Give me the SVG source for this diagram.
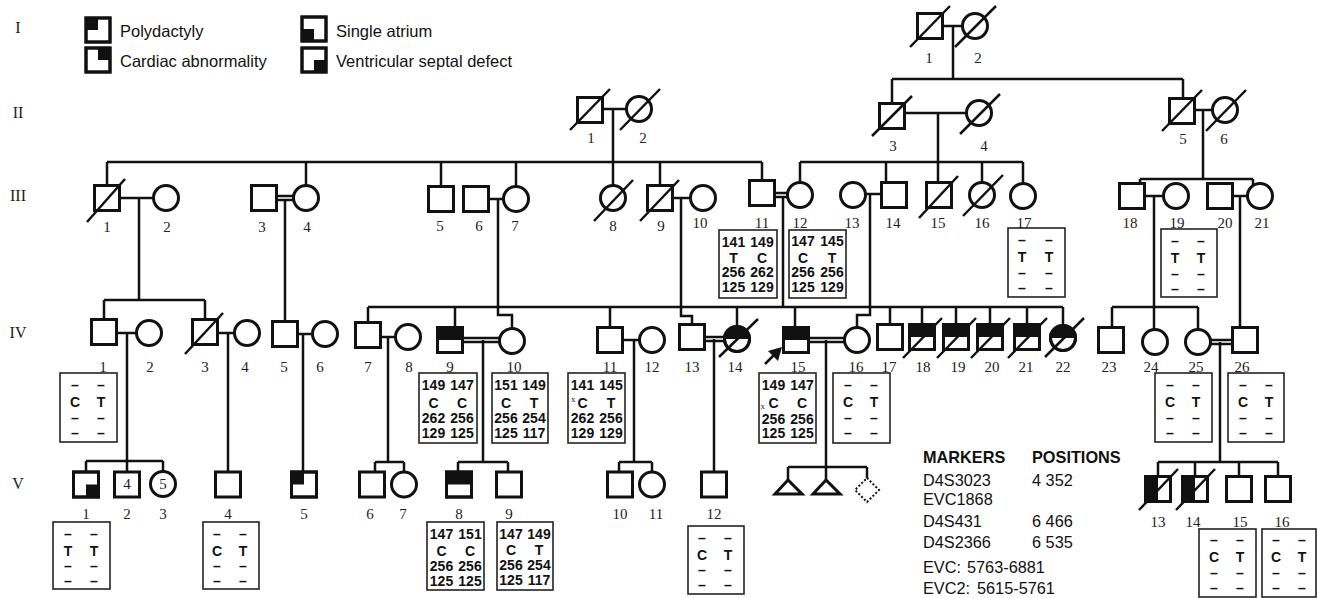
<svg xmlns="http://www.w3.org/2000/svg" width="1317" height="598" viewBox="0 0 1317 598">
<style>
.s{fill:#fff;stroke:#111;stroke-width:3}
.f{fill:#111}
.d{stroke:#111;stroke-width:2.5}
.ln{stroke:#111;stroke-width:2.5;fill:none}
.bx{fill:#fff;stroke:#222;stroke-width:1.6}
.lb{font-family:"Liberation Serif","Times New Roman",serif;font-size:15px;text-anchor:middle;fill:#222}
.gl{font-family:"Liberation Serif","Times New Roman",serif;font-size:16px;text-anchor:middle;fill:#222}
.g{font-family:"Liberation Sans",Arial,sans-serif;font-weight:bold;font-size:14px;text-anchor:middle;fill:#111}
.lg{font-family:"Liberation Sans",Arial,sans-serif;font-size:16.5px;fill:#111}
.mk{font-family:"Liberation Sans",Arial,sans-serif;font-size:16.3px;fill:#111}
.mb{font-family:"Liberation Sans",Arial,sans-serif;font-size:16.3px;font-weight:bold;fill:#111}
.x{font-family:"Liberation Serif",serif;font-size:9px;fill:#222}
</style>
<rect width="1317" height="598" fill="#fff"/>

<!-- generation labels -->
<g id="gen-labels">
<text class="gl" x="18" y="33">I</text>
<text class="gl" x="18" y="118">II</text>
<text class="gl" x="18" y="201">III</text>
<text class="gl" x="18" y="338">IV</text>
<text class="gl" x="18" y="489">V</text>
</g>

<!-- legend -->
<g id="legend">
<rect class="s" x="86" y="18" width="24" height="24"/><rect class="f" x="86" y="18" width="12" height="12"/><rect x="86" y="18" width="24" height="24" fill="none" stroke="#111" stroke-width="3"/>
<text class="lg" x="120" y="37">Polydactyly</text>
<rect class="s" x="86" y="48" width="24" height="24"/><rect class="f" x="98" y="48" width="12" height="12"/><rect x="86" y="48" width="24" height="24" fill="none" stroke="#111" stroke-width="3"/>
<text class="lg" x="120" y="67">Cardiac abnormality</text>
<rect class="s" x="302" y="17" width="24" height="24"/><rect class="f" x="302" y="29" width="12" height="12"/><rect x="302" y="17" width="24" height="24" fill="none" stroke="#111" stroke-width="3"/>
<text class="lg" x="336" y="37">Single atrium</text>
<rect class="s" x="302" y="48" width="24" height="24"/><rect class="f" x="314" y="60" width="12" height="12"/><rect x="302" y="48" width="24" height="24" fill="none" stroke="#111" stroke-width="3"/>
<text class="lg" x="336" y="67">Ventricular septal defect</text>
</g>

<!-- connectors -->
<g id="connectors" class="ln">
<path d="M943 26H962M953 26V79M892 79H1183M892 79V103.5M1183 79V98.5"/>
<path d="M603 109H626M613 109V185.5M904 113H966M938 113V182.5M1194 110H1212M1203 110V179"/>
<path d="M107 162H762M107 162V185.5M306 162V185.5M441 162V186.5M516 162V186.5M660 162V185.5M762 162V180.5"/>
<path d="M800 162H1023M800 162V182.5M886 162V182.5M982 162V182.5M1023 162V183.5"/>
<path d="M1140 179H1253M1140 179V183.5M1253 179V186"/>
<path d="M120 198H153M139 198V300M104 300H205M104 300V319.5M205 300V319.5"/>
<path d="M276 196H293.5M276 200H293.5M285 200V321.5"/>
<path d="M488 199H503M498 199V315H512V328.5"/>
<path d="M672 198H690M681 198V316H692V324.5"/>
<path d="M774 193H787.5M774 197H787.5M783 197V307"/>
<path d="M865 194H881.5M870 194V315H857V327.5"/>
<path d="M1144 196H1163.5M1154 196V329.5M1112 307H1198M1112 307V327.5M1198 307V329.5"/>
<path d="M1232 196H1247.5M1240 196V327.5"/>
<path d="M368 307H1063M368 307V322.5M455 307V327.5M610 307V327.5M737 307V326.5M795 307V327.5M890 307V324.5M922 307V324.5M956 307V324.5M990 307V324.5M1027 307V324.5M1063 307V325.5"/>
<path d="M116.5 333H136.5M127 333V461M86 461H163M86 461V472M127 461V472M163 461V471.5"/>
<path d="M217.5 333H234.5M228 333V472M297.5 334H312.5M303 334V472"/>
<path d="M380.5 337H395.5M388 337V462M375 462H404M375 462V472M404 462V471.5"/>
<path d="M462 338H499.5M462 342H499.5M483 340V462M458 462H508M458 462V472M508 462V472"/>
<path d="M622.5 340H639.5M634 340V462M619 462H652M619 462V472M652 462V471.5"/>
<path d="M704.5 337H724.5M704.5 341H724.5M714 339V472"/>
<path d="M808.5 338H844.5M808.5 342H844.5M826 340V480M788 467H867M788 467V480M867 467V478"/>
<path d="M1210.5 340H1232.5M1210.5 344H1232.5M1220 342V462M1158 462H1278M1158 462V476.5M1195 462V476.5M1239 462V476.5M1278 462V476.5"/>
</g>

<!-- Generation I -->
<g id="I-1"><rect class="s" x="917.5" y="13.5" width="25" height="25"/><line class="d" x1="910" y1="47" x2="950" y2="6"/><text class="lb" x="929" y="63">1</text></g>
<g id="I-2"><circle class="s" cx="975" cy="26" r="12.5"/><line class="d" x1="955" y1="47" x2="996" y2="6"/><text class="lb" x="978" y="63">2</text></g>

<!-- Generation II -->
<g id="II-1"><rect class="s" x="577.5" y="97.5" width="25" height="25"/><line class="d" x1="570" y1="130" x2="610" y2="89"/><text class="lb" x="591" y="143">1</text></g>
<g id="II-2"><circle class="s" cx="639" cy="109" r="12.5"/><line class="d" x1="620" y1="130" x2="660" y2="89"/><text class="lb" x="643" y="143">2</text></g>
<g id="II-3"><rect class="s" x="879.5" y="103.5" width="25" height="25"/><line class="d" x1="872" y1="136" x2="912" y2="96"/><text class="lb" x="893" y="151">3</text></g>
<g id="II-4"><circle class="s" cx="979" cy="113" r="12.5"/><line class="d" x1="960" y1="134" x2="1000" y2="94"/><text class="lb" x="984" y="151">4</text></g>
<g id="II-5"><rect class="s" x="1169.5" y="98.5" width="25" height="25"/><line class="d" x1="1162" y1="131" x2="1202" y2="90"/><text class="lb" x="1183" y="144">5</text></g>
<g id="II-6"><circle class="s" cx="1225" cy="110" r="12.5"/><line class="d" x1="1206" y1="131" x2="1246" y2="90"/><text class="lb" x="1224" y="144">6</text></g>

<!-- Generation III -->
<g id="III-1"><rect class="s" x="94.5" y="185.5" width="25" height="25"/><line class="d" x1="87" y1="222" x2="125" y2="179"/><text class="lb" x="107" y="232">1</text></g>
<g id="III-2"><circle class="s" cx="166" cy="198" r="12.5"/><text class="lb" x="167" y="232">2</text></g>
<g id="III-3"><rect class="s" x="251.5" y="185.5" width="25" height="25"/><text class="lb" x="262" y="232">3</text></g>
<g id="III-4"><circle class="s" cx="306" cy="198" r="12.5"/><text class="lb" x="307" y="232">4</text></g>
<g id="III-5"><rect class="s" x="428.5" y="186.5" width="25" height="25"/><text class="lb" x="440" y="231">5</text></g>
<g id="III-6"><rect class="s" x="463.5" y="186.5" width="25" height="25"/><text class="lb" x="479" y="231">6</text></g>
<g id="III-7"><circle class="s" cx="516" cy="199" r="12.5"/><text class="lb" x="515" y="231">7</text></g>
<g id="III-8"><circle class="s" cx="613" cy="198" r="12.5"/><line class="d" x1="594" y1="221" x2="633" y2="180"/><text class="lb" x="613" y="231">8</text></g>
<g id="III-9"><rect class="s" x="647.5" y="185.5" width="25" height="25"/><line class="d" x1="640" y1="221" x2="679" y2="180"/><text class="lb" x="661" y="231">9</text></g>
<g id="III-10"><circle class="s" cx="703" cy="198" r="12.5"/><text class="lb" x="700" y="228">10</text></g>
<g id="III-11"><rect class="s" x="749.5" y="180.5" width="25" height="25"/><text class="lb" x="762" y="228">11</text>
<rect class="bx" x="719" y="230" width="58" height="68"/>
<text class="g" y="247"><tspan x="733.5">141</tspan><tspan x="762">149</tspan></text>
<text class="g" y="263"><tspan x="733.5">T</tspan><tspan x="762">C</tspan></text>
<text class="g" y="277"><tspan x="733.5">256</tspan><tspan x="762">262</tspan></text>
<text class="g" y="292"><tspan x="733.5">125</tspan><tspan x="762">129</tspan></text>
</g>
<g id="III-12"><circle class="s" cx="800" cy="195" r="12.5"/><text class="lb" x="800" y="228">12</text>
<rect class="bx" x="789" y="230" width="57" height="68"/>
<text class="g" y="246"><tspan x="803">147</tspan><tspan x="832">145</tspan></text>
<text class="g" y="263"><tspan x="803">C</tspan><tspan x="832">T</tspan></text>
<text class="g" y="277"><tspan x="803">256</tspan><tspan x="832">256</tspan></text>
<text class="g" y="292"><tspan x="803">125</tspan><tspan x="832">129</tspan></text>
</g>
<g id="III-13"><circle class="s" cx="853" cy="195" r="12.5"/><text class="lb" x="852" y="228">13</text></g>
<g id="III-14"><rect class="s" x="881.5" y="182.5" width="25" height="25"/><text class="lb" x="893" y="228">14</text></g>
<g id="III-15"><rect class="s" x="926.5" y="182.5" width="25" height="25"/><line class="d" x1="919" y1="218" x2="958" y2="176"/><text class="lb" x="938" y="228">15</text></g>
<g id="III-16"><circle class="s" cx="982" cy="195" r="12.5"/><line class="d" x1="963" y1="216" x2="1003" y2="175"/><text class="lb" x="982" y="228">16</text></g>
<g id="III-17"><circle class="s" cx="1023" cy="196" r="12.5"/><text class="lb" x="1024" y="228">17</text>
<rect class="bx" x="1008" y="228" width="57" height="69"/>
<text class="g" y="245"><tspan x="1022">–</tspan><tspan x="1049">–</tspan></text>
<text class="g" y="262"><tspan x="1022">T</tspan><tspan x="1049">T</tspan></text>
<text class="g" y="278"><tspan x="1022">–</tspan><tspan x="1049">–</tspan></text>
<text class="g" y="293"><tspan x="1022">–</tspan><tspan x="1049">–</tspan></text>
</g>
<g id="III-18"><rect class="s" x="1119.5" y="183.5" width="25" height="25"/><text class="lb" x="1130" y="228">18</text></g>
<g id="III-19"><circle class="s" cx="1176" cy="196" r="12.5"/><text class="lb" x="1177" y="228">19</text>
<rect class="bx" x="1161" y="229" width="56" height="68"/>
<text class="g" y="246"><tspan x="1175">–</tspan><tspan x="1201">–</tspan></text>
<text class="g" y="263"><tspan x="1175">T</tspan><tspan x="1201">T</tspan></text>
<text class="g" y="279"><tspan x="1175">–</tspan><tspan x="1201">–</tspan></text>
<text class="g" y="294"><tspan x="1175">–</tspan><tspan x="1201">–</tspan></text>
</g>
<g id="III-20"><rect class="s" x="1207.5" y="183.5" width="25" height="25"/><text class="lb" x="1225" y="228">20</text></g>
<g id="III-21"><circle class="s" cx="1260" cy="196" r="12.5"/><text class="lb" x="1262" y="228">21</text></g>

<!-- Generation IV -->
<g id="IV-1"><rect class="s" x="91.5" y="319.5" width="25" height="25"/><text class="lb" x="103" y="372">1</text>
<rect class="bx" x="60" y="373" width="57" height="69"/>
<text class="g" y="390"><tspan x="75">–</tspan><tspan x="101">–</tspan></text>
<text class="g" y="407"><tspan x="75">C</tspan><tspan x="101">T</tspan></text>
<text class="g" y="423"><tspan x="75">–</tspan><tspan x="101">–</tspan></text>
<text class="g" y="438"><tspan x="75">–</tspan><tspan x="101">–</tspan></text>
</g>
<g id="IV-2"><circle class="s" cx="149" cy="333" r="12.5"/><text class="lb" x="150" y="372">2</text></g>
<g id="IV-3"><rect class="s" x="192.5" y="319.5" width="25" height="25"/><line class="d" x1="185" y1="354" x2="223" y2="313"/><text class="lb" x="205" y="372">3</text></g>
<g id="IV-4"><circle class="s" cx="247" cy="333" r="12.5"/><text class="lb" x="245" y="372">4</text></g>
<g id="IV-5"><rect class="s" x="272.5" y="321.5" width="25" height="25"/><text class="lb" x="284" y="372">5</text></g>
<g id="IV-6"><circle class="s" cx="325" cy="334" r="12.5"/><text class="lb" x="320" y="372">6</text></g>
<g id="IV-7"><rect class="s" x="355.5" y="322.5" width="25" height="25"/><text class="lb" x="368" y="372">7</text></g>
<g id="IV-8"><circle class="s" cx="408" cy="337" r="12.5"/><text class="lb" x="409" y="372">8</text></g>
<g id="IV-9"><rect class="s" x="437.5" y="327.5" width="25" height="25"/><rect class="f" x="437.5" y="327.5" width="25" height="12.5"/><rect x="437.5" y="327.5" width="25" height="25" fill="none" stroke="#111" stroke-width="3"/><text class="lb" x="450" y="372">9</text>
<rect class="bx" x="419" y="373" width="58" height="70"/>
<text class="g" y="390"><tspan x="433.5">149</tspan><tspan x="462">147</tspan></text>
<text class="g" y="408"><tspan x="433.5">C</tspan><tspan x="462">C</tspan></text>
<text class="g" y="423"><tspan x="433.5">262</tspan><tspan x="462">256</tspan></text>
<text class="g" y="438"><tspan x="433.5">129</tspan><tspan x="462">125</tspan></text>
</g>
<g id="IV-10"><circle class="s" cx="512" cy="341" r="12.5"/><text class="lb" x="514" y="372">10</text>
<rect class="bx" x="492" y="373" width="56" height="70"/>
<text class="g" y="390"><tspan x="506">151</tspan><tspan x="534">149</tspan></text>
<text class="g" y="408"><tspan x="506">C</tspan><tspan x="534">T</tspan></text>
<text class="g" y="423"><tspan x="506">256</tspan><tspan x="534">254</tspan></text>
<text class="g" y="438"><tspan x="506">125</tspan><tspan x="534">117</tspan></text>
</g>
<g id="IV-11"><rect class="s" x="597.5" y="327.5" width="25" height="25"/><text class="lb" x="610" y="372">11</text>
<rect class="bx" x="568" y="373" width="57" height="70"/>
<text class="g" y="390"><tspan x="582.5">141</tspan><tspan x="611">145</tspan></text>
<text class="x" x="571" y="402">x</text>
<text class="g" y="408"><tspan x="582.5">C</tspan><tspan x="611">T</tspan></text>
<text class="g" y="423"><tspan x="582.5">262</tspan><tspan x="611">256</tspan></text>
<text class="g" y="438"><tspan x="582.5">129</tspan><tspan x="611">129</tspan></text>
</g>
<g id="IV-12"><circle class="s" cx="652" cy="340" r="12.5"/><text class="lb" x="652" y="372">12</text></g>
<g id="IV-13"><rect class="s" x="679.5" y="324.5" width="25" height="25"/><text class="lb" x="692" y="372">13</text></g>
<g id="IV-14"><circle class="s" cx="737" cy="339" r="12.5"/><path class="f" d="M724.5 339A12.5 12.5 0 0 1 749.5 339Z"/><circle cx="737" cy="339" r="12.5" fill="none" stroke="#111" stroke-width="3"/><line class="d" x1="719" y1="357" x2="758" y2="319"/><text class="lb" x="735" y="372">14</text></g>
<g id="IV-15"><rect class="s" x="783.5" y="327.5" width="25" height="25"/><rect class="f" x="783.5" y="327.5" width="25" height="12.5"/><rect x="783.5" y="327.5" width="25" height="25" fill="none" stroke="#111" stroke-width="3"/><text class="lb" x="798" y="372">15</text>
<polygon class="f" points="782,347 768,351 778,361"/><line class="d" x1="775" y1="354" x2="765" y2="364" stroke-width="3.5"/>
<rect class="bx" x="759" y="373" width="57" height="70"/>
<text class="g" y="390"><tspan x="773.5">149</tspan><tspan x="802">147</tspan></text>
<text class="g" y="408"><tspan x="773.5">C</tspan><tspan x="802">C</tspan></text>
<text class="x" x="760.5" y="408.5" font-size="8">x</text>
<text class="g" y="424"><tspan x="773.5">256</tspan><tspan x="802">256</tspan></text>
<text class="g" y="438"><tspan x="773.5">125</tspan><tspan x="802">125</tspan></text>
</g>
<g id="IV-16"><circle class="s" cx="857" cy="340" r="12.5"/><text class="lb" x="856" y="372">16</text>
<rect class="bx" x="833" y="373" width="57" height="70"/>
<text class="g" y="390"><tspan x="848">–</tspan><tspan x="874">–</tspan></text>
<text class="g" y="407"><tspan x="848">C</tspan><tspan x="874">T</tspan></text>
<text class="g" y="423"><tspan x="848">–</tspan><tspan x="874">–</tspan></text>
<text class="g" y="438"><tspan x="848">–</tspan><tspan x="874">–</tspan></text>
</g>
<g id="IV-17"><rect class="s" x="877.5" y="324.5" width="25" height="25"/><text class="lb" x="889" y="372">17</text></g>
<g id="IV-18"><rect class="s" x="909.5" y="324.5" width="25" height="25"/><rect class="f" x="909.5" y="324.5" width="25" height="12.5"/><rect x="909.5" y="324.5" width="25" height="25" fill="none" stroke="#111" stroke-width="3"/><line class="d" x1="903" y1="358" x2="942" y2="318"/><text class="lb" x="923" y="372">18</text></g>
<g id="IV-19"><rect class="s" x="943.5" y="324.5" width="25" height="25"/><rect class="f" x="943.5" y="324.5" width="25" height="12.5"/><rect x="943.5" y="324.5" width="25" height="25" fill="none" stroke="#111" stroke-width="3"/><line class="d" x1="937" y1="358" x2="976" y2="318"/><text class="lb" x="958" y="372">19</text></g>
<g id="IV-20"><rect class="s" x="977.5" y="324.5" width="25" height="25"/><rect class="f" x="977.5" y="324.5" width="25" height="12.5"/><rect x="977.5" y="324.5" width="25" height="25" fill="none" stroke="#111" stroke-width="3"/><line class="d" x1="971" y1="358" x2="1010" y2="318"/><text class="lb" x="992" y="372">20</text></g>
<g id="IV-21"><rect class="s" x="1014.5" y="324.5" width="25" height="25"/><rect class="f" x="1014.5" y="324.5" width="25" height="12.5"/><rect x="1014.5" y="324.5" width="25" height="25" fill="none" stroke="#111" stroke-width="3"/><line class="d" x1="1008" y1="358" x2="1047" y2="318"/><text class="lb" x="1026" y="372">21</text></g>
<g id="IV-22"><circle class="s" cx="1063" cy="338" r="12.5"/><path class="f" d="M1050.5 338A12.5 12.5 0 0 1 1075.5 338Z"/><circle cx="1063" cy="338" r="12.5" fill="none" stroke="#111" stroke-width="3"/><line class="d" x1="1045" y1="357" x2="1084" y2="318"/><text class="lb" x="1063" y="372">22</text></g>
<g id="IV-23"><rect class="s" x="1098.5" y="327.5" width="25" height="25"/><text class="lb" x="1109" y="372">23</text></g>
<g id="IV-24"><circle class="s" cx="1155" cy="342" r="12.5"/><text class="lb" x="1151" y="372">24</text></g>
<g id="IV-25"><circle class="s" cx="1198" cy="342" r="12.5"/><text class="lb" x="1196" y="372">25</text>
<rect class="bx" x="1155" y="373" width="57" height="69"/>
<text class="g" y="390"><tspan x="1170">–</tspan><tspan x="1196">–</tspan></text>
<text class="g" y="407"><tspan x="1170">C</tspan><tspan x="1196">T</tspan></text>
<text class="g" y="423"><tspan x="1170">–</tspan><tspan x="1196">–</tspan></text>
<text class="g" y="438"><tspan x="1170">–</tspan><tspan x="1196">–</tspan></text>
</g>
<g id="IV-26"><rect class="s" x="1232.5" y="327.5" width="25" height="25"/><text class="lb" x="1242" y="372">26</text>
<rect class="bx" x="1228" y="373" width="56" height="69"/>
<text class="g" y="390"><tspan x="1243">–</tspan><tspan x="1269">–</tspan></text>
<text class="g" y="407"><tspan x="1243">C</tspan><tspan x="1269">T</tspan></text>
<text class="g" y="423"><tspan x="1243">–</tspan><tspan x="1269">–</tspan></text>
<text class="g" y="438"><tspan x="1243">–</tspan><tspan x="1269">–</tspan></text>
</g>

<!-- Generation V -->
<g id="V-1"><rect class="s" x="73.5" y="472" width="25" height="25"/><rect class="f" x="86" y="484.5" width="12.5" height="12.5"/><rect x="73.5" y="472" width="25" height="25" fill="none" stroke="#111" stroke-width="3"/><text class="lb" x="86" y="519">1</text>
<rect class="bx" x="53" y="522" width="57" height="67"/>
<text class="g" y="539"><tspan x="68">–</tspan><tspan x="94">–</tspan></text>
<text class="g" y="556"><tspan x="68">T</tspan><tspan x="94">T</tspan></text>
<text class="g" y="571"><tspan x="68">–</tspan><tspan x="94">–</tspan></text>
<text class="g" y="586"><tspan x="68">–</tspan><tspan x="94">–</tspan></text>
</g>
<g id="V-2"><rect class="s" x="114.5" y="472" width="25" height="25"/><text class="lb" x="127" y="489" font-size="14">4</text><text class="lb" x="127" y="519">2</text></g>
<g id="V-3"><circle class="s" cx="163" cy="484" r="12.5"/><text class="lb" x="163" y="489" font-size="14">5</text><text class="lb" x="163" y="519">3</text></g>
<g id="V-4"><rect class="s" x="215.5" y="472" width="25" height="25"/><text class="lb" x="228" y="519">4</text>
<rect class="bx" x="203" y="522" width="56" height="67"/>
<text class="g" y="539"><tspan x="217">–</tspan><tspan x="243">–</tspan></text>
<text class="g" y="556"><tspan x="217">C</tspan><tspan x="243">T</tspan></text>
<text class="g" y="571"><tspan x="217">–</tspan><tspan x="243">–</tspan></text>
<text class="g" y="586"><tspan x="217">–</tspan><tspan x="243">–</tspan></text>
</g>
<g id="V-5"><rect class="s" x="291.5" y="472" width="25" height="25"/><rect class="f" x="291.5" y="472" width="12.5" height="12.5"/><rect x="291.5" y="472" width="25" height="25" fill="none" stroke="#111" stroke-width="3"/><text class="lb" x="304" y="519">5</text></g>
<g id="V-6"><rect class="s" x="359.5" y="472" width="25" height="25"/><text class="lb" x="370" y="519">6</text></g>
<g id="V-7"><circle class="s" cx="404" cy="484.5" r="12.5"/><text class="lb" x="403" y="519">7</text></g>
<g id="V-8"><rect class="s" x="446.5" y="472" width="25" height="25"/><rect class="f" x="446.5" y="472" width="25" height="12.5"/><rect x="446.5" y="472" width="25" height="25" fill="none" stroke="#111" stroke-width="3"/><text class="lb" x="459" y="519">8</text>
<rect class="bx" x="427" y="522" width="57" height="68"/>
<text class="g" y="539"><tspan x="441.5">147</tspan><tspan x="470">151</tspan></text>
<text class="g" y="556"><tspan x="441.5">C</tspan><tspan x="470">C</tspan></text>
<text class="g" y="571"><tspan x="441.5">256</tspan><tspan x="470">256</tspan></text>
<text class="g" y="586"><tspan x="441.5">125</tspan><tspan x="470">125</tspan></text>
</g>
<g id="V-9"><rect class="s" x="496.5" y="472" width="25" height="25"/><text class="lb" x="509" y="519">9</text>
<rect class="bx" x="497" y="522" width="56" height="68"/>
<text class="g" y="539"><tspan x="511">147</tspan><tspan x="539">149</tspan></text>
<text class="g" y="555"><tspan x="511">C</tspan><tspan x="539">T</tspan></text>
<text class="g" y="570"><tspan x="511">256</tspan><tspan x="539">254</tspan></text>
<text class="g" y="585"><tspan x="511">125</tspan><tspan x="539">117</tspan></text>
</g>
<g id="V-10"><rect class="s" x="607.5" y="472" width="25" height="25"/><text class="lb" x="620" y="519">10</text></g>
<g id="V-11"><circle class="s" cx="652" cy="484.5" r="12.5"/><text class="lb" x="656" y="519">11</text></g>
<g id="V-12"><rect class="s" x="701.5" y="472" width="25" height="25"/><text class="lb" x="714" y="519">12</text>
<rect class="bx" x="688" y="526" width="56" height="68"/>
<text class="g" y="543"><tspan x="702">–</tspan><tspan x="728">–</tspan></text>
<text class="g" y="560"><tspan x="702">C</tspan><tspan x="728">T</tspan></text>
<text class="g" y="575"><tspan x="702">–</tspan><tspan x="728">–</tspan></text>
<text class="g" y="590"><tspan x="702">–</tspan><tspan x="728">–</tspan></text>
</g>
<g id="V-pregnancy-1"><polygon points="788,480 775,494 802,494" fill="#fff" stroke="#111" stroke-width="3" stroke-linejoin="miter"/></g>
<g id="V-pregnancy-2"><polygon points="826,480 813,494 840,494" fill="#fff" stroke="#111" stroke-width="3"/></g>
<g id="V-pregnancy-3"><polygon points="867,478 879,490 867,502 855,490" fill="#fff" stroke="#111" stroke-width="2" stroke-dasharray="2 2"/></g>
<g id="V-13"><rect class="s" x="1145.5" y="476.5" width="25" height="25"/><rect class="f" x="1145.5" y="476.5" width="12.5" height="25"/><rect x="1145.5" y="476.5" width="25" height="25" fill="none" stroke="#111" stroke-width="3"/><line class="d" x1="1139" y1="510" x2="1178" y2="469"/><text class="lb" x="1158" y="527">13</text></g>
<g id="V-14"><rect class="s" x="1182.5" y="476.5" width="25" height="25"/><rect class="f" x="1182.5" y="476.5" width="12.5" height="25"/><rect x="1182.5" y="476.5" width="25" height="25" fill="none" stroke="#111" stroke-width="3"/><line class="d" x1="1176" y1="510" x2="1215" y2="469"/><text class="lb" x="1193" y="527">14</text></g>
<g id="V-15"><rect class="s" x="1226.5" y="476.5" width="25" height="25"/><text class="lb" x="1240" y="527">15</text>
<rect class="bx" x="1199" y="529" width="57" height="68"/>
<text class="g" y="545"><tspan x="1214">–</tspan><tspan x="1240">–</tspan></text>
<text class="g" y="562"><tspan x="1214">C</tspan><tspan x="1240">T</tspan></text>
<text class="g" y="578"><tspan x="1214">–</tspan><tspan x="1240">–</tspan></text>
<text class="g" y="593"><tspan x="1214">–</tspan><tspan x="1240">–</tspan></text>
</g>
<g id="V-16"><rect class="s" x="1265.5" y="476.5" width="25" height="25"/><text class="lb" x="1282" y="527">16</text>
<rect class="bx" x="1262" y="529" width="54" height="68"/>
<text class="g" y="545"><tspan x="1276">–</tspan><tspan x="1302">–</tspan></text>
<text class="g" y="562"><tspan x="1276">C</tspan><tspan x="1302">T</tspan></text>
<text class="g" y="578"><tspan x="1276">–</tspan><tspan x="1302">–</tspan></text>
<text class="g" y="593"><tspan x="1276">–</tspan><tspan x="1302">–</tspan></text>
</g>

<!-- markers table -->
<g id="markers">
<text class="mb" x="923" y="463">MARKERS</text>
<text class="mb" x="1032" y="463">POSITIONS</text>
<text class="mk" x="923" y="486">D4S3023</text><text class="mk" x="1032" y="486">4 352</text>
<text class="mk" x="923" y="505">EVC1868</text>
<text class="mk" x="923" y="527">D4S431</text><text class="mk" x="1032" y="527">6 466</text>
<text class="mk" x="923" y="548">D4S2366</text><text class="mk" x="1032" y="548">6 535</text>
<text class="mk" x="923" y="573" font-size="15.5">EVC:</text><text class="mk" x="967" y="573" font-size="15.5">5763-6881</text>
<text class="mk" x="923" y="594" font-size="15.5">EVC2:</text><text class="mk" x="977" y="594" font-size="15.5">5615-5761</text>
</g>
</svg>
